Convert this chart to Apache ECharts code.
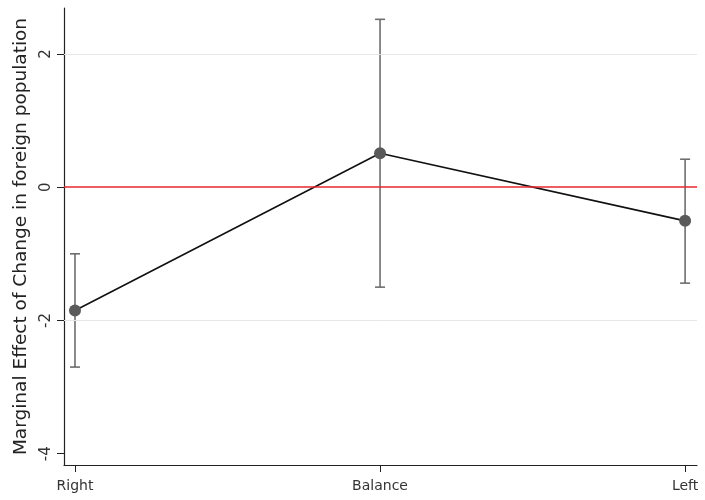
<!DOCTYPE html>
<html>
<head>
<meta charset="utf-8">
<script src="https://cdn.jsdelivr.net/npm/echarts@6/dist/echarts.min.js"></script>
<style>html,body{margin:0;padding:0;background:#fff}#c{width:705px;height:500px}</style>
</head>
<body>
<div id="c"></div>
<script>
// Marginal effect estimates with 95% confidence bounds by group
const categories = ['Right', 'Balance', 'Left'];
const estimates = [-1.85, 0.51, -0.505];
const lowerBounds = [-2.70, -1.50, -1.44];
const upperBounds = [-1.00, 2.52, 0.42];
const yTicks = [-4, -2, 0, 2];

const FONT = 'DejaVu Sans';
const chart = echarts.init(document.getElementById('c'));

const errData = categories.map((c, i) => [i, lowerBounds[i], upperBounds[i]]);
const pointData = categories.map((c, i) => [i, estimates[i]]);

chart.setOption({
  animation: false,
  grid: { left: 64, right: 8, top: 8, bottom: 35 },
  xAxis: {
    type: 'value',
    min: -0.036,
    max: 2.039,
    axisLine: { show: true, onZero: false, lineStyle: { color: '#222', width: 1.2 } },
    axisTick: { show: true, length: 7, customValues: [0, 1, 2], lineStyle: { color: '#222' } },
    axisLabel: {
      customValues: [0, 1, 2],
      formatter: v => categories[Math.round(v)],
      color: '#333', fontFamily: FONT, fontSize: 14, margin: 14
    },
    splitLine: { show: false }
  },
  yAxis: {
    type: 'value',
    min: -4.17,
    max: 2.69,
    name: 'Marginal Effect of Change in foreign population',
    nameLocation: 'middle',
    nameGap: 31,
    nameTextStyle: { color: '#222', fontFamily: FONT, fontSize: 18.5 },
    axisLine: { show: true, onZero: false, lineStyle: { color: '#222', width: 1.2 } },
    axisTick: { show: true, length: 7, customValues: yTicks, lineStyle: { color: '#222' } },
    axisLabel: {
      customValues: yTicks,
      rotate: 90,
      color: '#333', fontFamily: FONT, fontSize: 15, margin: 10
    },
    splitLine: { show: false }
  },
  series: [
    {
      type: 'line',
      data: [],
      markLine: {
        silent: true,
        symbol: 'none',
        label: { show: false },
        data: [
          { yAxis: 2, lineStyle: { color: '#e6e6e6', width: 1, type: 'solid' } },
          { yAxis: -2, lineStyle: { color: '#e6e6e6', width: 1, type: 'solid' } },
          { yAxis: 0, lineStyle: { color: '#e8282b', width: 1.6, type: 'solid' } }
        ]
      }
    },
    {
      type: 'custom',
      data: errData,
      z: 3,
      renderItem: (params, api) => {
        const x = api.value(0);
        const lo = api.coord([x, api.value(1)]);
        const hi = api.coord([x, api.value(2)]);
        const w = 5;
        const style = { stroke: '#6e6e6e', lineWidth: 1.6 };
        return {
          type: 'group',
          children: [
            { type: 'line', shape: { x1: lo[0], y1: lo[1], x2: hi[0], y2: hi[1] }, style },
            { type: 'line', shape: { x1: lo[0] - w, y1: lo[1], x2: lo[0] + w, y2: lo[1] }, style },
            { type: 'line', shape: { x1: hi[0] - w, y1: hi[1], x2: hi[0] + w, y2: hi[1] }, style }
          ]
        };
      }
    },
    {
      type: 'line',
      data: pointData,
      z: 4,
      symbol: 'circle',
      symbolSize: 12,
      lineStyle: { color: '#111', width: 1.6 },
      itemStyle: { color: '#5a5a5a' }
    }
  ]
});
</script>
</body>
</html>
